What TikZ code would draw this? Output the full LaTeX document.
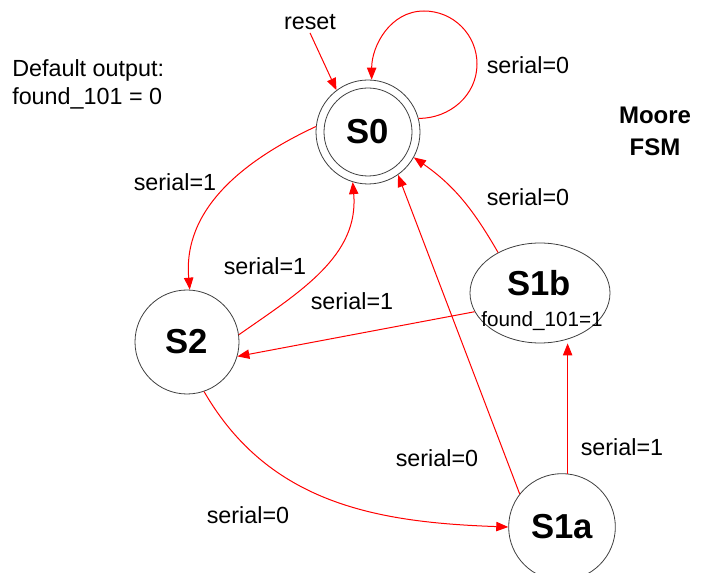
\documentclass[tikz,border=0pt]{standalone}
\usepackage{fontspec}
\setmainfont{Liberation Sans}
\usetikzlibrary{arrows.meta,shapes.geometric}
\begin{document}
\begin{tikzpicture}[x=0.75pt,y=-0.75pt,
  state/.style={circle,draw=black!75,line width=0.6pt,minimum size=78pt,inner sep=0pt,font=\fontsize{26}{28}\selectfont\bfseries},
  arr/.style={draw=red,line width=0.75pt,-{Triangle[length=9pt,width=7pt]}},
  lbl/.style={font=\fontsize{17.5}{21}\selectfont,inner sep=0pt}]
\useasboundingbox[fill=white] (0,0) rectangle (703,573);
% states
\node[state] (S0) at (368,132) {S0};
\node[circle,draw=black!75,line width=0.6pt,minimum size=66pt,inner sep=0pt] (S0in) at (368,132) {};
\node[state] (S2) at (187,342) {S2};
\node[state,minimum size=80pt] (S1a) at (562,527) {S1a};
\node[ellipse,draw=black!75,line width=0.6pt,minimum width=105pt,minimum height=75pt,inner sep=0pt] (S1b) at (540,293) {};
\node[font=\fontsize{26}{28}\selectfont\bfseries,inner sep=0pt] (S1bt) at (539,283) {S1b};
\node[font=\fontsize{15.5}{18}\selectfont,inner sep=0pt] (S1bo) at (542,321) {found\_101=1};
% texts
\node[lbl] (reset) at (310,22) {reset};
\node[lbl,anchor=west] (def1) at (12,70) {Default output:};
\node[lbl,anchor=west] (def2) at (12,98) {found\_101 = 0};
\node[lbl,font=\fontsize{18}{24}\selectfont\bfseries,align=center] (moore) at (655,131) {Moore\\FSM};
% connectors
\draw[arr] (reset.south) ++(0,3) coordinate (rs) (rs) -- (S0.127);
\coordinate (l1) at (477,64);
\coordinate (l2) at (424,11);
\draw[arr] (S0.15) to[out=0,in=-90] (l1) to[out=90,in=0] (l2) to[out=180,in=90] (S0.86);
\node[lbl] (e1) at (528,65) {serial=0};
\draw[arr] (S0.174) to[out=205,in=95] (S2.87);
\node[lbl] (e2) at (175,182) {serial=1};
\draw[arr] (S2.8) to[out=35,in=-85] (S0.253);
\node[lbl] (e3) at (265,266) {serial=1};
\draw[arr] (S1b.136) to[out=120,in=-35] (S0.-29);
\node[lbl] (e4) at (528,197) {serial=0};
\draw[arr] (S1b.196) -- (S2.-16);
\node[lbl] (e5) at (352,301) {serial=1};
\draw[arr] (S1a.142) -- (S0.-55);
\node[lbl] (e6) at (437,458) {serial=0};
\draw[arr] (S1a.84) -- (S1a.84 |- S1b.south);
\node[lbl] (e7) at (622,447) {serial=1};
\draw[arr] (S2.-71) to[out=-60,in=178] (S1a.180);
\node[lbl] (e8) at (248,515) {serial=0};
\end{tikzpicture}
\end{document}
